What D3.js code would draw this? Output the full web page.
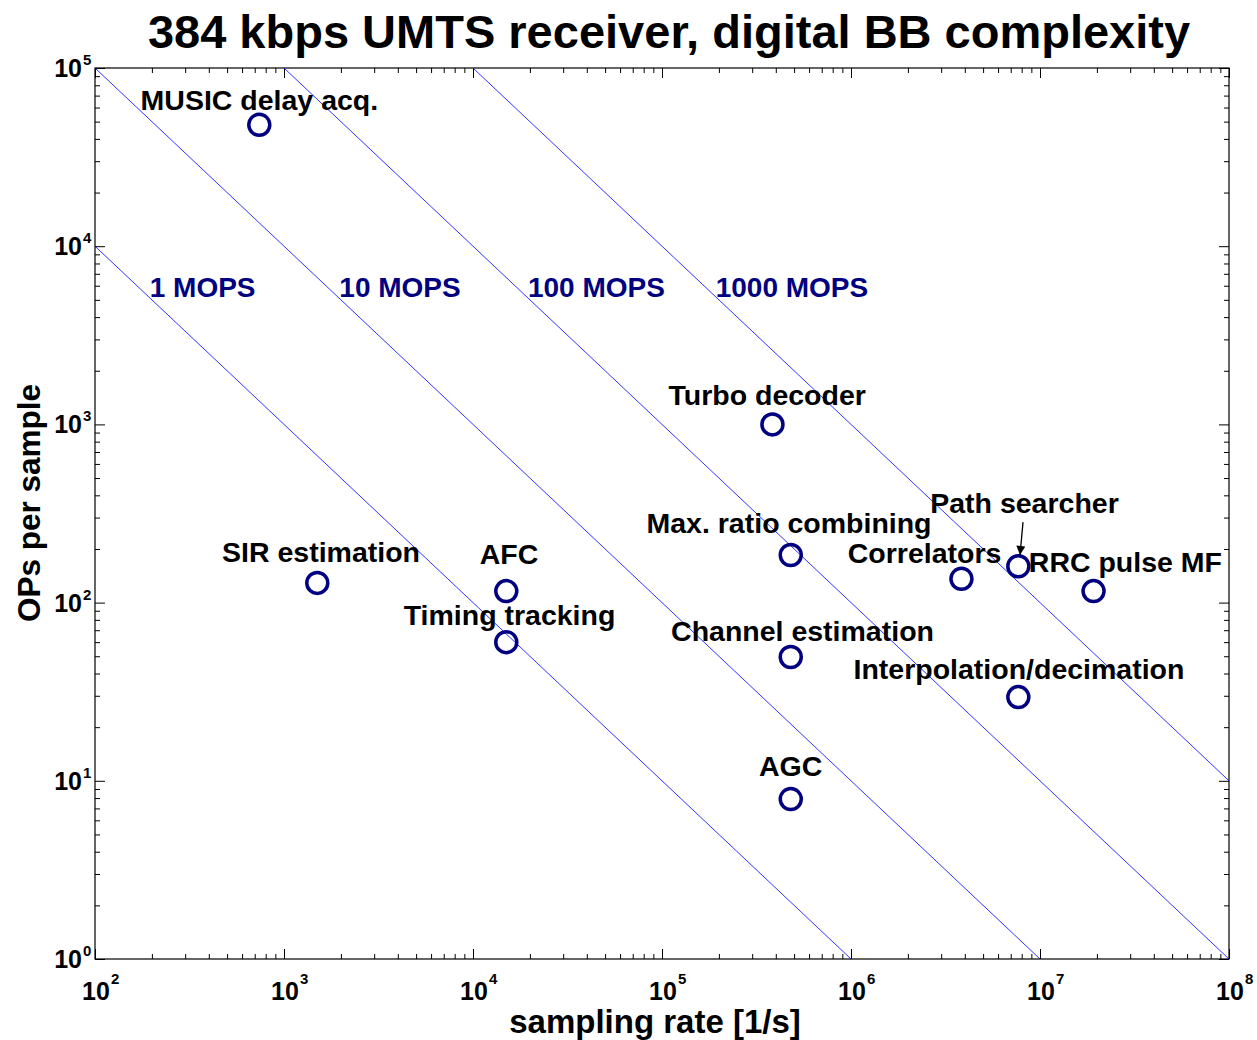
<!DOCTYPE html>
<html>
<head>
<meta charset="utf-8">
<script src="https://cdn.jsdelivr.net/npm/d3@7"></script>
<style>
  html, body { margin: 0; padding: 0; background: #fff; }
  svg { display: block; }
  text { font-family: "Liberation Sans", Arial, Helvetica, sans-serif; font-weight: bold; }
</style>
</head>
<body>
<svg id="chart" width="1257" height="1040"></svg>
<script>
// ---------------- data ----------------
const title = "384 kbps UMTS receiver, digital BB complexity";
const xLabel = "sampling rate [1/s]";
const yLabel = "OPs per sample";

const blockNames = ["MUSIC delay acq.", "Turbo decoder", "Max. ratio combining", "Correlators",
  "Path searcher", "RRC pulse MF", "SIR estimation", "AFC", "Timing tracking",
  "Channel estimation", "Interpolation/decimation", "AGC"];
const sampleRates = [740, 3.84e5, 4.8e5, 3.84e6, 7.68e6, 1.92e7, 1500, 1.5e4, 1.5e4, 4.8e5, 7.68e6, 4.8e5];
const opsPerSample = [48000, 1000, 185, 136, 160, 116, 129, 116, 60, 49.5, 29.5, 7.9];
// label anchor positions (data coordinates, text centred, baseline)
const labelX = [741, 3.6e5, 4.7e5, 2.45e6, 8.28e6, 2.83e7, 1570, 1.55e4, 1.56e4, 5.54e5, 7.74e6, 4.79e5];
const labelY = [58100, 1285, 246, 167, 318, 148.6, 169, 165, 74.8, 60.9, 37.3, 10.6];

// constant-complexity lines
const mopsValues = [1, 10, 100, 1000];
const mopsLabels = ["1 MOPS", "10 MOPS", "100 MOPS", "1000 MOPS"];
const mopsLabelX = [371, 4110, 45000, 4.87e5];
const mopsLabelY = 5190;

// arrow for "Path searcher"
const arrowFrom = [8.13e6, 283];
const arrowTo = [7.84e6, 185];

// axes
const xDomain = [1e2, 1e8];
const yDomain = [1, 1e5];
const xMajorExp = [2, 3, 4, 5, 6, 7, 8];
const yMajorExp = [0, 1, 2, 3, 4, 5];

// ---------------- drawing ----------------
const svg = d3.select("#chart");
const L = 95, R = 1229, T = 68, B = 959;
const x = d3.scaleLog().domain(xDomain).range([L, R]);
const y = d3.scaleLog().domain(yDomain).range([B, T]);

function minors(domain) {
  const out = [];
  for (let e = Math.log10(domain[0]); e < Math.log10(domain[1]); e++)
    for (let m = 2; m <= 9; m++) out.push(m * Math.pow(10, e));
  return out;
}
const xMajors = xMajorExp.map(e => Math.pow(10, e));
const yMajors = yMajorExp.map(e => Math.pow(10, e));

// clip
const defs = svg.append("defs");
defs.append("clipPath").attr("id", "plotclip")
  .append("rect").attr("x", L).attr("y", T).attr("width", R - L).attr("height", B - T);
defs.append("marker").attr("id", "arrowhead")
  .attr("viewBox", "0 0 10 10").attr("refX", 10).attr("refY", 5)
  .attr("markerWidth", 11).attr("markerHeight", 9).attr("markerUnits", "userSpaceOnUse")
  .attr("orient", "auto")
  .append("path").attr("d", "M0,0 L10,5 L0,10 Z").attr("fill", "#000");

// ticks
function drawAxis(axisGen, transform, size) {
  const g = svg.append("g").attr("transform", transform).call(axisGen.tickSize(size).tickFormat(""));
  g.select(".domain").remove();
  g.selectAll(".tick line").attr("stroke", "#000").attr("stroke-width", 1);
}
drawAxis(d3.axisBottom(x).tickValues(xMajors), `translate(0,${B})`, -10);
drawAxis(d3.axisBottom(x).tickValues(minors(xDomain)), `translate(0,${B})`, -5);
drawAxis(d3.axisTop(x).tickValues(xMajors), `translate(0,${T})`, -10);
drawAxis(d3.axisTop(x).tickValues(minors(xDomain)), `translate(0,${T})`, -5);
drawAxis(d3.axisLeft(y).tickValues(yMajors), `translate(${L},0)`, -10);
drawAxis(d3.axisLeft(y).tickValues(minors(yDomain)), `translate(${L},0)`, -5);
drawAxis(d3.axisRight(y).tickValues(yMajors), `translate(${R},0)`, -10);
drawAxis(d3.axisRight(y).tickValues(minors(yDomain)), `translate(${R},0)`, -5);

// frame
svg.append("rect").attr("x", L).attr("y", T).attr("width", R - L).attr("height", B - T)
  .attr("fill", "none").attr("stroke", "#000").attr("stroke-width", 1.2);

// tick labels
xMajorExp.forEach(e => {
  const px = x(Math.pow(10, e));
  const t = svg.append("text").attr("x", px + 1).attr("y", 1000)
    .attr("text-anchor", "middle").attr("font-size", 25).text("10");
  const w = t.node().getComputedTextLength();
  svg.append("text").attr("x", px + 1 + w / 2 + 1).attr("y", 984)
    .attr("font-size", 15).text(e);
});
yMajorExp.forEach(e => {
  const py = y(Math.pow(10, e));
  svg.append("text").attr("x", 82).attr("y", py + 9)
    .attr("text-anchor", "end").attr("font-size", 25).text("10");
  svg.append("text").attr("x", 83).attr("y", py - 3)
    .attr("font-size", 15).text(e);
});

// MOPS lines
const lineGen = d3.line().x(d => x(d[0])).y(d => y(d[1]));
const plot = svg.append("g").attr("clip-path", "url(#plotclip)");
mopsValues.forEach(m => {
  const pts = [xDomain[0], xDomain[1]].map(r => [r, m * 1e6 / r]);
  plot.append("path").attr("d", lineGen(pts))
    .attr("fill", "none").attr("stroke", "#0000ff").attr("stroke-width", 0.8);
});
mopsLabels.forEach((s, i) => {
  svg.append("text").attr("x", x(mopsLabelX[i])).attr("y", y(mopsLabelY))
    .attr("text-anchor", "middle").attr("font-size", 28).attr("fill", "#000080").text(s);
});

// points
blockNames.forEach((n, i) => {
  svg.append("circle").attr("cx", x(sampleRates[i])).attr("cy", y(opsPerSample[i]))
    .attr("r", 10.5).attr("fill", "none").attr("stroke", "#000080").attr("stroke-width", 3.5);
});
blockNames.forEach((n, i) => {
  svg.append("text").attr("x", x(labelX[i])).attr("y", y(labelY[i]))
    .attr("text-anchor", "middle").attr("font-size", 28.5).attr("fill", "#000").text(n);
});

// arrow
svg.append("line")
  .attr("x1", x(arrowFrom[0])).attr("y1", y(arrowFrom[1]))
  .attr("x2", x(arrowTo[0])).attr("y2", y(arrowTo[1]))
  .attr("stroke", "#000").attr("stroke-width", 1.3).attr("marker-end", "url(#arrowhead)");

// titles
svg.append("text").attr("x", 669).attr("y", 48).attr("text-anchor", "middle")
  .attr("font-size", 47).text(title);
svg.append("text").attr("x", 655).attr("y", 1033).attr("text-anchor", "middle")
  .attr("font-size", 33).text(xLabel);
svg.append("text").attr("transform", "translate(40,503) rotate(-90)").attr("text-anchor", "middle")
  .attr("font-size", 31.5).text(yLabel);
</script>
</body>
</html>
